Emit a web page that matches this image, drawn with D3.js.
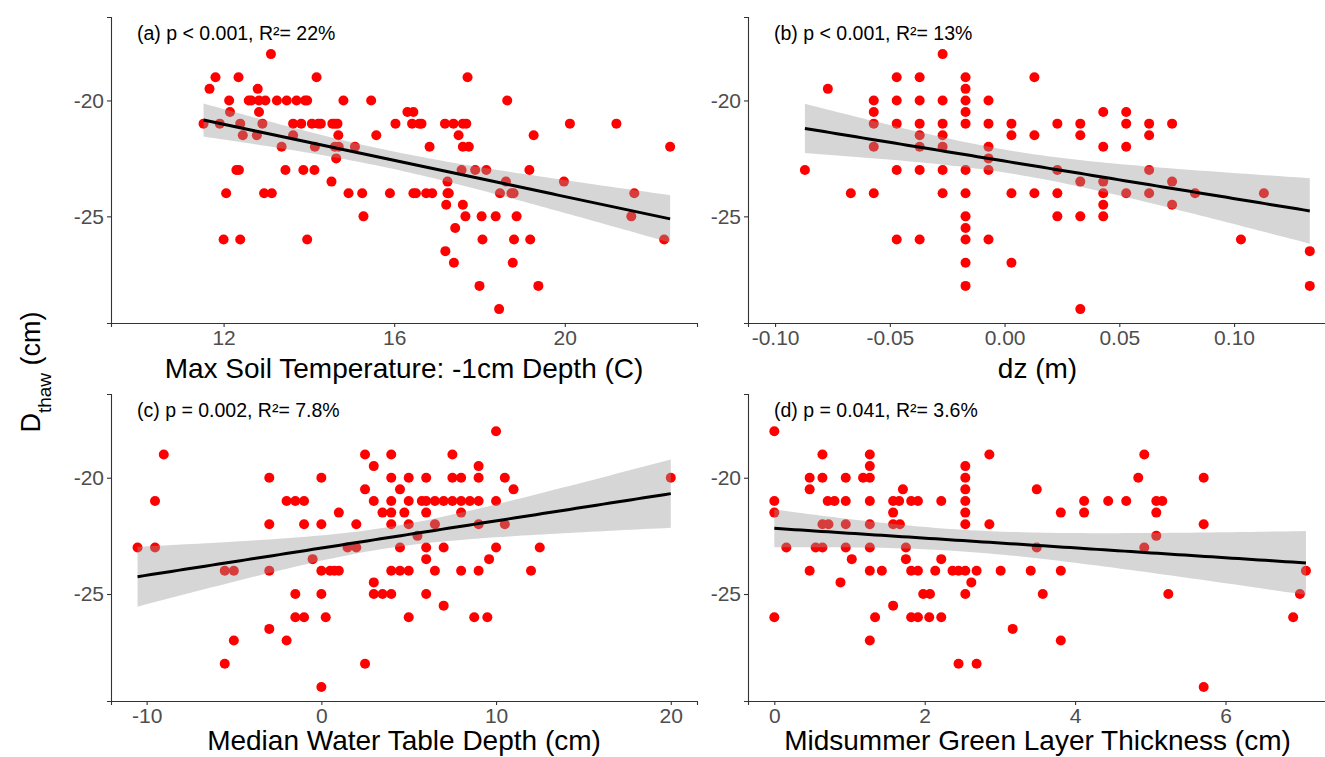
<!DOCTYPE html>
<html lang="en">
<head>
<meta charset="UTF-8">
<title>Dthaw vs site variables</title>
<script src="https://d3js.org/d3.v7.min.js"></script>
<style>
  body { margin: 0; background: #fff; font-family: Arial, "Liberation Sans", sans-serif; }
  .axis path, .axis line { stroke: #333; stroke-width: 1.1px; }
  .axis text { fill: #4d4d4d; font-size: 21px; font-family: Arial, "Liberation Sans", sans-serif; }
</style>
</head>
<body>
<div id="chart"></div>
<script>
// ---- data: [x, Dthaw] ----
const soilTemp = [
  [11.53,-21],[11.67,-19.5],[11.81,-19],[11.91,-21],[12.0,-26],[12.06,-24],[12.13,-20],[12.15,-20.5],
  [12.35,-19],[12.30,-23],[12.36,-23],[12.39,-21],[12.39,-26],[12.45,-21.5],[12.59,-20],[12.65,-20],
  [12.80,-19.5],[12.83,-20],[12.83,-20.5],[12.91,-21],[12.78,-21.5],[12.98,-20],[12.95,-24],[13.13,-24],
  [13.11,-18],[13.25,-20],[13.36,-22],[13.45,-23],[13.48,-20],[13.63,-21],[13.63,-21.5],[13.71,-20],
  [13.82,-21],[13.91,-20],[13.96,-20],[13.87,-23],[13.96,-26],[14.07,-21],[14.14,-22],[14.13,-23],
  [14.18,-19],[14.22,-21],[14.28,-21],[14.53,-23.5],[14.55,-21],[14.61,-21],[14.67,-21],[14.69,-21.5],
  [14.61,-22],[14.70,-22],[14.64,-22.5],[14.81,-20],[14.93,-24],[15.08,-22],[15.25,-24],[15.28,-25],
  [15.46,-20],[15.58,-21.5],[15.90,-24],[16.03,-21],[16.31,-20.5],[16.45,-20.5],[16.42,-21],[16.59,-21],
  [16.64,-21],[16.45,-24],[16.51,-24],[16.75,-24],[16.89,-24],[16.83,-22],[17.19,-21],[17.39,-21],
  [17.61,-21],[17.69,-21],[17.51,-21.5],[17.61,-22],[17.75,-22],[17.72,-19],[17.25,-23.5],[17.25,-24],
  [17.28,-24],[17.22,-24.5],[17.61,-24.5],[17.67,-25],[17.43,-25.5],[17.20,-26.5],[17.40,-27],[17.58,-23],
  [17.90,-23],[18.16,-23],[18.05,-25],[18.38,-25],[18.87,-25],[18.07,-26],[18.81,-26],[19.19,-26],
  [18.00,-28],[19.38,-28],[18.46,-29],[18.78,-27],[18.65,-20],[19.27,-21.5],[19.17,-23],[18.62,-23.5],
  [18.48,-24],[18.75,-24],[18.80,-24],[20.12,-21],[19.98,-23.5],[21.21,-21],[21.63,-24],[21.56,-25],
  [22.33,-26],[22.47,-22]
];

const dzCols = [-0.087,-0.077,-0.067,-0.057,-0.047,-0.037,-0.027,-0.017,-0.007,0.003,0.013,
  0.023,0.033,0.043,0.053,0.063,0.073,0.083,0.103,0.113,0.133];
const dzVals = [
  [-23],[-19.5],[-24],[-20,-20.5,-21,-22,-24],[-19,-20,-21,-23,-26],
  [-19,-20,-21,-21.5,-22,-23,-26],[-18,-20,-21,-21.5,-22,-23,-24],
  [-19,-19.5,-20,-20.5,-21,-23,-24,-25,-25.5,-26,-27,-28],[-20,-21,-22,-22.5,-23,-26],
  [-21,-21.5,-24,-27],[-19,-21.5,-24],[-21,-23,-24,-25],[-21,-21.5,-23.5,-25,-29],
  [-20.5,-22,-23.5,-24,-24.5,-25],[-20.5,-21,-22,-24],[-21,-21.5,-23,-24],[-21,-23.5,-24.5],
  [-24],[-26],[-24],[-26.5,-28]
];
const dz = dzCols.flatMap((x, i) => dzVals[i].map(y => [x, y]));

const waterTable = [
  [-10.52,-23],[-9.52,-21],[-9.52,-23],[-9.02,-19],[-5.53,-24],[-5.01,-24],[-5.53,-28],[-5.01,-27],
  [-2.98,-20],[-2.98,-22],[-2.98,-24],[-2.98,-26.5],[-1.99,-21],[-1.49,-21],[-0.99,-21],[-0.99,-22],
  [-1.49,-25],[-1.49,-26],[-0.99,-26],[-1.99,-27],[-0.5,-23.5],[0,-20],[0,-22],[0,-24],[0.5,-24],
  [0.75,-24],[1.0,-24],[0,-25],[0.25,-26],[0,-29],[1.0,-21.5],[1.5,-23],[2.0,-23],[2.0,-22],[2.5,-19],
  [2.5,-20.5],[2.5,-28],[3.0,-19.5],[3.0,-21],[3.0,-24.5],[3.0,-25],[3.5,-21.5],[3.5,-25],[4,-19],
  [4,-20],[4,-21],[4,-21.5],[4,-22],[4,-24],[4,-25],[4.5,-20.5],[4.5,-23],[4.5,-24],[4.75,-21.5],
  [5,-20],[5,-21],[5,-22],[5,-24],[5,-26],[5.5,-22.5],[5.75,-21],[6,-20],[6,-21],[6,-21.5],[6,-23],
  [6,-23.5],[6,-25],[6.5,-21],[6.5,-22],[6.5,-24],[7,-21],[7,-23],[7,-25.5],[7.5,-19],[7.5,-20],
  [7.5,-21],[8,-20],[8,-21],[8,-21.5],[8,-24],[8.5,-21],[8.75,-26],[9,-19.5],[9,-20],[9,-21],[9,-22],
  [9,-24],[9.5,-26],[9.6,-23.5],[10,-18],[10,-21],[10,-23],[10.5,-20],[10.5,-22],[11,-20.5],[12,-24],
  [12.5,-23],[20,-20]
];

const greenLayer = [
  [0,-18],[0,-21],[0,-21.5],[0,-26],[0.16,-23],[0.47,-20],[0.47,-20.5],[0.47,-24],[0.55,-23],[0.64,-19],
  [0.64,-20],[0.64,-22],[0.64,-23],[0.71,-21],[0.72,-22],[0.8,-21],[0.88,-24.5],[0.95,-20],[0.95,-21],
  [0.95,-22],[0.95,-23],[1.03,-23.5],[1.18,-20],[1.27,-19],[1.27,-19.5],[1.27,-20],[1.27,-21],[1.27,-22],
  [1.27,-23],[1.27,-24],[1.27,-27],[1.34,-26],[1.43,-24],[1.58,-21],[1.58,-21.5],[1.58,-22],[1.58,-25.5],
  [1.66,-21],[1.67,-22],[1.71,-20.5],[1.75,-23],[1.75,-23.5],[1.82,-21],[1.91,-21],[1.82,-24],[1.91,-24],
  [1.82,-26],[1.91,-26],[1.98,-25],[2.07,-25],[2.06,-26],[2.14,-24],[2.22,-21],[2.22,-23.5],[2.22,-26],
  [2.37,-24],[2.45,-24],[2.45,-28],[2.54,-19.5],[2.54,-20],[2.54,-20.5],[2.54,-21],[2.54,-21.5],
  [2.54,-22],[2.54,-24],[2.54,-25],[2.62,-24.5],[2.69,-24],[2.69,-28],[2.86,-19],[2.86,-22],[3.01,-24],
  [3.17,-26.5],[3.41,-24],[3.49,-20.5],[3.49,-23],[3.57,-25],[3.81,-21.5],[3.81,-24],[3.81,-27],
  [4.12,-21],[4.12,-21.5],[4.44,-21],[4.68,-21],[4.84,-20],[4.92,-19],[4.92,-23],[5.08,-21],[5.16,-21],
  [5.08,-21.5],[5.08,-22.5],[5.24,-25],[5.71,-20],[5.71,-22],[5.71,-29],[6.9,-26],[6.99,-25],[7.07,-24]
];

const panelLabels = ["(a) p < 0.001, R\u00b2= 22%", "(b) p < 0.001, R\u00b2= 13%",
                     "(c) p = 0.002, R\u00b2= 7.8%", "(d) p = 0.041, R\u00b2= 3.6%"];
const xTitles = ["Max Soil Temperature: -1cm Depth (C)", "dz (m)",
                 "Median Water Table Depth (cm)", "Midsummer Green Layer Thickness (cm)"];
const xTicks = [[12, 16, 20], [-0.10, -0.05, 0, 0.05, 0.10], [-10, 0, 10, 20], [0, 2, 4, 6]];
const xTickFormats = [d3.format("d"), d3.format(".2f"), d3.format("d"), d3.format("d")];
const xDomains = [[9.36, 23.1], [-0.1118, 0.1405], [-12.04, 21.5], [-0.35, 7.35]];
const yTicks = [-25, -20];
const yDomain = [-29.6, -16.4];

// ---- layout ----
const W = 1325, H = 757;
const boxes = [
  {x0: 111, x1: 697, y0: 17, y1: 323, titleY: 378},
  {x0: 748, x1: 1327, y0: 17, y1: 323, titleY: 378},
  {x0: 111, x1: 697, y0: 394, y1: 701, titleY: 750},
  {x0: 748, x1: 1327, y0: 394, y1: 701, titleY: 750}
];
const datasets = [soilTemp, dz, waterTable, greenLayer];

const svg = d3.select("#chart").append("svg")
  .attr("width", W).attr("height", H);

const hyphen = s => s.replace("\u2212", "-");

// linear fit with 95% confidence band (as geom_smooth(method = "lm"))
function fitLm(pts) {
  const n = pts.length;
  const mx = d3.mean(pts, d => d[0]), my = d3.mean(pts, d => d[1]);
  const sxx = d3.sum(pts, d => (d[0] - mx) ** 2);
  const sxy = d3.sum(pts, d => (d[0] - mx) * (d[1] - my));
  const b = sxy / sxx, a = my - b * mx;
  const s = Math.sqrt(d3.sum(pts, d => (d[1] - a - b * d[0]) ** 2) / (n - 2));
  const t = 1.98;
  const [lo, hi] = d3.extent(pts, d => d[0]);
  return d3.range(80).map(i => {
    const x = lo + (hi - lo) * i / 79;
    const yhat = a + b * x;
    const se = s * Math.sqrt(1 / n + (x - mx) ** 2 / sxx);
    return {x, y: yhat, lo: yhat - t * se, hi: yhat + t * se};
  });
}

boxes.forEach((bx, i) => {
  const x = d3.scaleLinear().domain(xDomains[i]).range([bx.x0, bx.x1]);
  const y = d3.scaleLinear().domain(yDomain).range([bx.y1, bx.y0]);
  const g = svg.append("g");

  // axes
  g.append("g").attr("class", "axis")
    .attr("transform", `translate(0,${bx.y1})`)
    .call(d3.axisBottom(x).tickValues(xTicks[i]).tickSizeOuter(0).tickSize(4).tickPadding(3)
      .tickFormat(d => hyphen(xTickFormats[i](d))));
  g.append("g").attr("class", "axis")
    .attr("transform", `translate(${bx.x0},0)`)
    .call(d3.axisLeft(y).tickValues(yTicks).tickSizeOuter(0).tickSize(4).tickPadding(3)
      .tickFormat(d => hyphen(d3.format("d")(d))));

  // points
  g.selectAll("circle").data(datasets[i]).join("circle")
    .attr("cx", d => x(d[0])).attr("cy", d => y(d[1]))
    .attr("r", 5).attr("fill", "#ff0000");

  // smoother band + line
  const fit = fitLm(datasets[i]);
  g.append("path").datum(fit)
    .attr("d", d3.area().x(d => x(d.x)).y0(d => y(d.lo)).y1(d => y(d.hi)))
    .attr("fill", "#999999").attr("fill-opacity", 0.4);
  g.append("path").datum(fit)
    .attr("d", d3.line().x(d => x(d.x)).y(d => y(d.y)))
    .attr("fill", "none").attr("stroke", "#000").attr("stroke-width", 3);

  // annotation
  g.append("text")
    .attr("x", bx.x0 + 26).attr("y", bx.y0 + 23)
    .style("font-size", "19.5px").attr("fill", "#000")
    .text(panelLabels[i]);

  // x title
  g.append("text")
    .attr("x", (bx.x0 + bx.x1) / 2).attr("y", bx.titleY)
    .attr("text-anchor", "middle")
    .style("font-size", "28px").attr("fill", "#000")
    .text(xTitles[i]);
});

// shared y title
const yt = svg.append("text")
  .attr("transform", "translate(40,372) rotate(-90)")
  .attr("text-anchor", "middle")
  .style("font-size", "27px").attr("fill", "#000");
yt.append("tspan").text("D");
yt.append("tspan").attr("baseline-shift", "sub").style("font-size", "19px").text("thaw");
yt.append("tspan").text(" (cm)");
</script>
</body>
</html>
